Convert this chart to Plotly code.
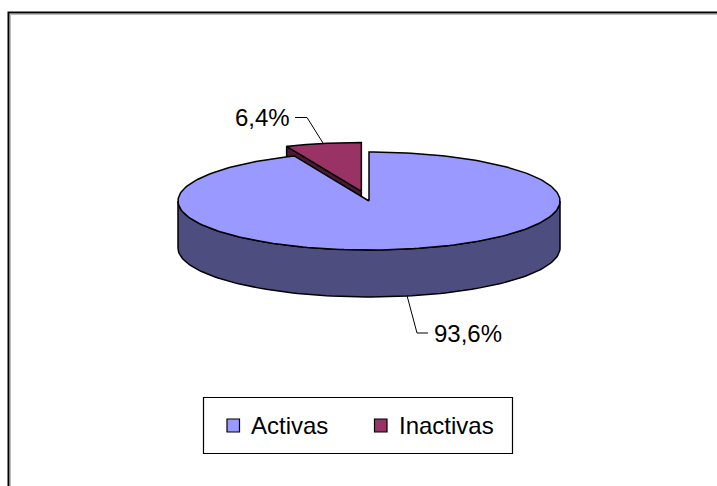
import numpy as np
import plotly.graph_objects as go

# ---- data ----
categories = ["Activas", "Inactivas"]
values = [93.6, 6.4]
top_colors = ["#9999FF", "#993366"]
side_colors = ["#4D4D80", "#4D1933"]

# ---- geometry (layout constants, pixel space) ----
W, H = 717, 486
CX, CY = 369.0, 201.0
RX, RY = 191.0, 49.0
DEPTH = 47.0
EXPLODE = [0.0, 0.2]
FONT = "Arial, Liberation Sans, sans-serif"
FS = 24

fig = go.Figure()

def rim(theta_deg, dx=0.0, dy=0.0, down=0.0):
    t = np.radians(theta_deg)
    return CX + RX * np.sin(t) + dx, CY - RY * np.cos(t) + dy + down

total = float(sum(values))
starts, ends = [], []
acc = 0.0
for v in values:
    starts.append(acc)
    acc += v / total * 360.0
    ends.append(acc)

def shift_for(i):
    mid = np.radians((starts[i] + ends[i]) / 2.0)
    d = EXPLODE[i]
    return d * RX * np.sin(mid), -d * RY * np.cos(mid)

def poly(xs, ys, fill, name):
    fig.add_trace(go.Scatter(
        x=xs, y=ys, mode="lines", fill="toself", fillcolor=fill,
        line=dict(color="black", width=1.5), hoverinfo="skip",
        showlegend=False, name=name))

# draw back (exploded) slices first, front slice last
order = sorted(range(len(values)), key=lambda i: -EXPLODE[i])
for i in order:
    dx, dy = shift_for(i)
    a0, a1 = starts[i], ends[i]
    # radial face at the start angle is visible when it lies in the upper-left quadrant
    if 270 < a0 < 360:
        xt, yt = rim(a0, dx, dy)
        xs = [CX + dx, xt, xt, CX + dx, CX + dx]
        ys = [CY + dy, yt, yt + DEPTH, CY + dy + DEPTH, CY + dy]
        poly(xs, ys, side_colors[i], categories[i])
    # outer side wall (visible front half 90..270)
    lo, hi = max(a0, 90.0), min(a1, 270.0)
    if hi > lo:
        th = np.linspace(lo, hi, 120)
        xt, yt = rim(th, dx, dy)
        xb, yb = rim(th[::-1], dx, dy, DEPTH)
        poly(np.r_[xt, xb, xt[0]], np.r_[yt, yb, yt[0]], side_colors[i], categories[i])
    # top face
    th = np.linspace(a0, a1, 240)
    xt, yt = rim(th, dx, dy)
    poly(np.r_[CX + dx, xt, CX + dx], np.r_[CY + dy, yt, CY + dy], top_colors[i], categories[i])

# ---- data labels with leader lines ----
def fmt(v):
    return f"{v:.1f}".replace(".", ",") + "%"

pct = [v / total * 100 for v in values]
# Activas label: leader from side-wall bottom at mid angle
i = 0
mid = (starts[i] + ends[i]) / 2.0
sx, sy = rim(mid, *shift_for(i), DEPTH)
ex, ey = 417.0, 333.0
fig.add_trace(go.Scatter(x=[sx, ex, ex + 11], y=[sy, ey, ey], mode="lines",
                         line=dict(color="black", width=1), hoverinfo="skip", showlegend=False))
fig.add_annotation(x=ex + 15, y=ey, text=fmt(pct[i]), showarrow=False, xanchor="left",
                   yanchor="middle", font=dict(family=FONT, size=FS, color="black"))
# Inactivas label
i = 1
mid = (starts[i] + ends[i]) / 2.0
sx, sy = rim(mid, *shift_for(i))
ex, ey = 307.0, 117.5
fig.add_trace(go.Scatter(x=[sx, ex, ex - 12], y=[sy, ey, ey], mode="lines",
                         line=dict(color="black", width=1), hoverinfo="skip", showlegend=False))
fig.add_annotation(x=ex - 15, y=ey, text=fmt(pct[i]), showarrow=False, xanchor="right",
                   yanchor="middle", font=dict(family=FONT, size=FS, color="black"))

# ---- manual legend ----
shapes = []
shapes.append(dict(type="rect", x0=203.5, y0=397.5, x1=512.5, y1=453.5,
                   line=dict(color="black", width=1.2), fillcolor="white", layer="below"))
leg_x = [227.0, 374.5]
leg_y = 425.5
for k, name in enumerate(categories):
    shapes.append(dict(type="rect", x0=leg_x[k], y0=leg_y - 6.5, x1=leg_x[k] + 12.5, y1=leg_y + 6.5,
                       line=dict(color="black", width=1.2), fillcolor=top_colors[k]))
    fig.add_annotation(x=leg_x[k] + 22, y=leg_y, text=name, showarrow=False, xanchor="left",
                       yanchor="middle", font=dict(family=FONT, size=FS, color="black"))

# ---- outer chart frame (only top and left edges fall inside the picture) ----
shapes.append(dict(type="path", path=f"M 10.5 {H} L 10.5 14.5 L {W} 14.5",
                   line=dict(color="#BBBBBB", width=1)))
shapes.append(dict(type="path", path=f"M 8.5 {H} L 8.5 12.5 L {W} 12.5",
                   line=dict(color="black", width=2)))

fig.update_layout(
    width=W, height=H, margin=dict(l=0, r=0, t=0, b=0),
    paper_bgcolor="white", plot_bgcolor="white",
    xaxis=dict(range=[0, W], visible=False, fixedrange=True),
    yaxis=dict(range=[H, 0], visible=False, fixedrange=True),
    shapes=shapes, showlegend=False,
)
fig.write_html(
    "out.html",
    config={"displayModeBar": False},
    post_script=(
        "document.documentElement.style.overflow='hidden';"
        "document.body.style.overflow='hidden';"
        "document.body.style.margin='0px';"
        "document.body.style.padding='0px';"
    ),
)
